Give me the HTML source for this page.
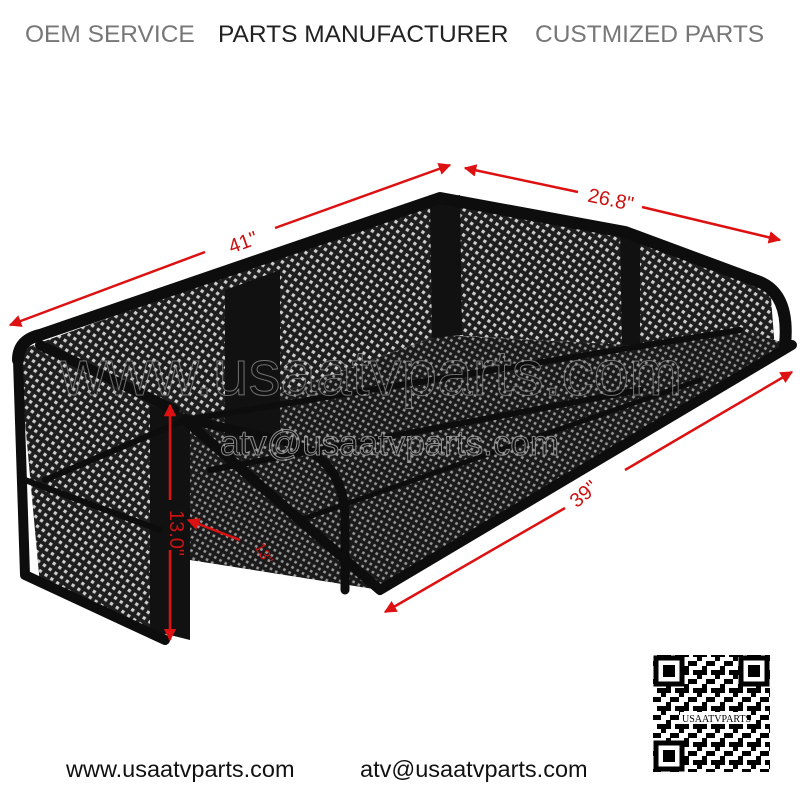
<!DOCTYPE html>
<html><head><meta charset="utf-8"><style>
html,body{margin:0;padding:0;background:#fff;width:800px;height:800px;overflow:hidden}
svg{display:block}
</style></head><body>
<svg width="800" height="800" viewBox="0 0 800 800" xmlns="http://www.w3.org/2000/svg">
<defs>
<pattern id="mesh" width="7" height="7" patternUnits="userSpaceOnUse" patternTransform="rotate(35)">
<rect width="7" height="7" fill="#1e1e1e"/>
<rect x="2" y="2" width="3.2" height="3.2" fill="#cfcfcf"/>
</pattern>
<pattern id="meshd" width="6" height="6" patternUnits="userSpaceOnUse" patternTransform="rotate(30)">
<rect width="6" height="6" fill="#1a1a1a"/>
<rect x="1.8" y="1.8" width="2.6" height="2.6" fill="#999"/>
</pattern>
<pattern id="qr" width="18" height="18" patternUnits="userSpaceOnUse">
<rect width="18" height="18" fill="#fff"/>
<rect x="0" y="0" width="5" height="9" fill="#000"/>
<rect x="9" y="4" width="9" height="5" fill="#000"/>
<rect x="4" y="13" width="9" height="5" fill="#000"/>
<rect x="13" y="9" width="5" height="4" fill="#000"/>
</pattern>
<marker id="ar" viewBox="0 0 10 10" refX="9" refY="5" markerWidth="5" markerHeight="5" orient="auto-start-reverse"><path d="M0,0L10,5L0,10z" fill="#d11"/></marker>
</defs>

<g font-family="Liberation Sans, sans-serif" font-size="24.5">
<text x="25" y="42" fill="#777">OEM SERVICE</text>
<text x="218" y="42" fill="#222">PARTS MANUFACTURER</text>
<text x="535" y="42" fill="#777">CUSTMIZED PARTS</text>
</g>

<!-- back long wall -->
<polygon points="20,350 440,198 440,335 45,480" fill="url(#mesh)"/>
<!-- back right wall -->
<polygon points="445,198 625,235 625,345 445,335" fill="url(#mesh)"/>
<!-- right end panel -->
<polygon points="625,235 770,285 775,350 630,345" fill="url(#mesh)"/>
<!-- inner floor -->
<polygon points="45,480 440,335 630,345 740,330 185,420" fill="url(#meshd)"/>
<!-- floor -->
<polygon points="185,420 740,330 792,345 380,590 190,560" fill="url(#meshd)"/>
<!-- left box -->
<polygon points="18,345 170,410 170,640 40,585" fill="url(#mesh)"/>
<!-- posts -->
<polygon points="225,290 280,270 280,440 225,460" fill="#111"/>
<polygon points="430,200 460,195 462,335 432,338" fill="#111"/>
<polygon points="620,232 640,235 640,345 622,345" fill="#111"/>
<polygon points="150,405 190,415 190,640 150,630" fill="#111"/>
<!-- rails -->
<g fill="none" stroke="#0d0d0d" stroke-linecap="round" stroke-linejoin="round">
<path d="M18,360 Q18,340 40,335 L440,198 L625,232 L760,282 Q790,295 785,345" stroke-width="12"/>
<path d="M18,360 L25,575 L165,640" stroke-width="10"/>
<path d="M40,345 L175,410" stroke-width="10"/>
<path d="M185,420 L380,590 L792,345" stroke-width="10"/>
<path d="M185,420 L740,330" stroke-width="6"/>
<path d="M190,420 L280,440 Q345,455 345,520 L345,590" stroke-width="9"/>
<path d="M45,480 L185,420" stroke-width="6"/>
<path d="M25,480 L160,530" stroke-width="6"/>
<path d="M210,470 L640,390" stroke-width="6"/>
<path d="M300,520 L700,380" stroke-width="5"/>
</g>

<!-- watermark -->
<text x="60" y="395" font-family="Liberation Sans, sans-serif" font-size="64" fill="none" stroke="#999" stroke-width="1" opacity="0.7">www.usaatvparts.com</text>
<text x="220" y="455" font-family="Liberation Sans, sans-serif" font-size="35" fill="none" stroke="#aaa" stroke-width="1" opacity="0.8">atv@usaatvparts.com</text>

<!-- dimensions -->
<g stroke="#d11" stroke-width="2.5" fill="none">
<line x1="10" y1="325" x2="205" y2="252" marker-start="url(#ar)"/>
<line x1="275" y1="228" x2="450" y2="165" marker-end="url(#ar)"/>
<line x1="465" y1="168" x2="578" y2="192" marker-start="url(#ar)"/>
<line x1="642" y1="207" x2="780" y2="240" marker-end="url(#ar)"/>
<line x1="385" y1="612" x2="565" y2="508" marker-start="url(#ar)"/>
<line x1="625" y1="470" x2="792" y2="372" marker-end="url(#ar)"/>
<line x1="170" y1="405" x2="170" y2="500" marker-start="url(#ar)"/>
<line x1="170" y1="550" x2="170" y2="640" marker-end="url(#ar)"/>
<line x1="188" y1="520" x2="240" y2="540" marker-start="url(#ar)"/>
</g>
<g font-family="Liberation Sans, sans-serif" font-size="20" fill="#c11">
<text x="228" y="250" transform="rotate(-20 240 242)">41"</text>
<text x="588" y="205" transform="rotate(12 605 198)">26.8"</text>
<text x="570" y="500" transform="rotate(-40 585 495)">39"</text>
<text x="165" y="525" transform="rotate(90 175 520)">13.0"</text>
<text x="255" y="555" font-size="15" transform="rotate(60 262 550)">13"</text>
</g>

<!-- QR -->
<rect x="653" y="655" width="117" height="117" fill="url(#qr)"/>
<g fill="#fff" stroke="#000" stroke-width="5">
<rect x="656" y="658" width="26" height="26"/>
<rect x="741" y="658" width="26" height="26"/>
<rect x="656" y="743" width="26" height="26"/>
</g>
<g fill="#000">
<rect x="663" y="665" width="12" height="12"/>
<rect x="748" y="665" width="12" height="12"/>
<rect x="663" y="750" width="12" height="12"/>
</g>
<rect x="680" y="712" width="67" height="12" fill="#fff"/>
<text x="682" y="722" font-family="Liberation Serif, serif" font-size="10" fill="#000">USAATVPARTS</text>

<g font-family="Liberation Sans, sans-serif" font-size="23.5" fill="#111">
<text x="66" y="777">www.usaatvparts.com</text>
<text x="360" y="777">atv@usaatvparts.com</text>
</g>
</svg>
</body></html>
